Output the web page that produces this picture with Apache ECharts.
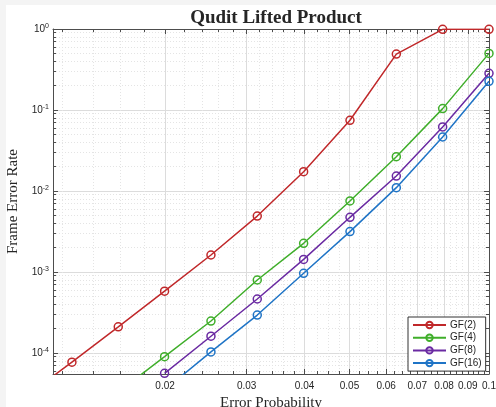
<!DOCTYPE html>
<html><head><meta charset="utf-8">
<script src="https://cdn.jsdelivr.net/npm/echarts@6/dist/echarts.min.js"></script>
<style>html,body{margin:0;padding:0;background:#f4f4f4}#c{width:496px;height:407px}</style>
</head><body><div id="c"></div>
<script>
// ---- data ----
const errorProbability = [0.01, 0.01259, 0.01585, 0.01995, 0.02512, 0.03162, 0.03981, 0.05012, 0.0631, 0.07943, 0.1];
const gf2  = [2.9e-5, 7.7e-5, 2.1e-4, 5.8e-4, 1.62e-3, 4.9e-3, 0.0173, 0.0746, 0.49, 0.99, 0.99];
const gf4  = [null, null, 3.3e-5, 9.0e-5, 2.48e-4, 7.96e-4, 2.26e-3, 7.53e-3, 0.0265, 0.104, 0.50];
const gf8  = [null, null, null, 5.61e-5, 1.61e-4, 4.64e-4, 1.43e-3, 4.73e-3, 0.0153, 0.0617, 0.284];
const gf16 = [null, null, null, 3.5e-5, 1.03e-4, 2.94e-4, 9.64e-4, 3.15e-3, 0.011, 0.0464, 0.226];
const seriesNames = ['GF(2)', 'GF(4)', 'GF(8)', 'GF(16)'];
const xTickLabels = [0.02, 0.03, 0.04, 0.05, 0.06, 0.07, 0.08, 0.09, 0.1];
const xMinorTicks = [0.012,0.014,0.016,0.018,0.022,0.024,0.026,0.028,0.032,0.034,0.036,0.038,
  0.0425,0.045,0.0475,0.0525,0.055,0.0575,0.0625,0.065,0.0675,0.0725,0.075,0.0775,0.0825,0.085,0.0875,0.0925,0.095,0.0975];
const yTickLabels = [1e-4, 1e-3, 1e-2, 1e-1, 1];
const yMinorTicks = [6e-5,7e-5,8e-5,9e-5,2e-4,3e-4,4e-4,5e-4,6e-4,7e-4,8e-4,9e-4,
  2e-3,3e-3,4e-3,5e-3,6e-3,7e-3,8e-3,9e-3,0.02,0.03,0.04,0.05,0.06,0.07,0.08,0.09,
  0.2,0.3,0.4,0.5,0.6,0.7,0.8,0.9];
const xRange = [0.01146, 0.1];
const yRange = [5.5e-5, 1];

// ---- styles ----
const colors = ['#c0282a', '#3fae2a', '#6a2aa2', '#1f74c6'];
const axisColor = '#4d4d4d';
const labelFont = 'Liberation Sans, Arial, sans-serif';
const serif = 'Liberation Serif, DejaVu Serif, serif';

function xAxisDef(pos, custom, major, showLabel, showName) {
  return {
    type: 'log', logBase: 10, min: xRange[0], max: xRange[1], position: pos,
    name: showName ? 'Error Probability' : '', nameLocation: 'middle', nameGap: 14,
    nameTextStyle: {fontFamily: serif, fontSize: 15, color: '#262626'},
    axisLine: {show: major, lineStyle: {color: axisColor, width: 1}},
    axisTick: {show: true, inside: true, length: major ? 5 : 3, customValues: custom,
      lineStyle: {color: axisColor, width: 1}},
    axisLabel: {show: showLabel, customValues: custom, margin: 7, fontFamily: labelFont, fontSize: 10,
      color: '#262626', formatter: v => String(Number(Number(v).toPrecision(3)))},
    splitLine: {show: pos === 'bottom', lineStyle: major ? {color: '#dcdcdc', width: 1} : {color: '#e4e4e4', width: 1, type: [1, 2]}},
    minorTick: {show: false}, minorSplitLine: {show: false}
  };
}
function yAxisDef(pos, custom, major, showLabel, showName) {
  return {
    type: 'log', logBase: 10, min: yRange[0], max: yRange[1], position: pos,
    name: showName ? 'Frame Error Rate' : '', nameLocation: 'middle', nameGap: 27,
    nameTextStyle: {fontFamily: serif, fontSize: 15, color: '#262626'},
    axisLine: {show: major, lineStyle: {color: axisColor, width: 1}},
    axisTick: {show: true, inside: true, length: major ? 5 : 3, customValues: custom,
      lineStyle: {color: axisColor, width: 1}},
    axisLabel: {show: showLabel, customValues: custom, margin: 4,
      formatter: v => '10{sup|' + Math.round(Math.log10(v)) + '}',
      rich: {
        sup: {fontFamily: labelFont, fontSize: 7, color: '#262626', lineHeight: 7, verticalAlign: 'top'}
      },
      fontFamily: labelFont, fontSize: 10, color: '#262626', lineHeight: 12
    },
    splitLine: {show: pos === 'left', lineStyle: major ? {color: '#dcdcdc', width: 1} : {color: '#e4e4e4', width: 1, type: [1, 2]}},
    minorTick: {show: false}, minorSplitLine: {show: false}
  };
}

const allSeries = [gf2, gf4, gf8, gf16];
const chart = echarts.init(document.getElementById('c'), null, {renderer: 'canvas'});
chart.setOption({
  backgroundColor: '#f4f4f4',
  animation: false,
  graphic: [{type: 'rect', shape: {x: 6, y: 5, width: 490, height: 402}, style: {fill: '#ffffff'}, z: -100, silent: true}],
  title: {text: 'Qudit Lifted Product', left: 271, top: 4, textAlign: 'center',
    textStyle: {fontFamily: serif, fontSize: 19, fontWeight: 'bold', color: '#262626'}},
  grid: {left: 53, right: 7, top: 29, bottom: 33, containLabel: false, outerBoundsMode: 'none',
    show: true, backgroundColor: '#ffffff', borderWidth: 0},
  legend: {
    orient: 'vertical', left: 408, top: 317, padding: [3, 4, 3, 4], itemGap: 2.7,
    itemWidth: 33, itemHeight: 8, backgroundColor: '#ffffff', borderColor: '#333333', borderWidth: 1,
    textStyle: {fontFamily: labelFont, fontSize: 10, color: '#262626', padding: [0, 0, 0, -1]},
    data: seriesNames
  },
  xAxis: [
    xAxisDef('bottom', xMinorTicks, false, false, false),
    xAxisDef('bottom', xTickLabels, true, true, true),
    xAxisDef('top', xMinorTicks, false, false, false),
    xAxisDef('top', xTickLabels, true, false, false)
  ],
  yAxis: [
    yAxisDef('left', yMinorTicks, false, false, false),
    yAxisDef('left', yTickLabels, true, true, true),
    yAxisDef('right', yMinorTicks, false, false, false),
    yAxisDef('right', yTickLabels, true, false, false)
  ],
  series: allSeries.map((vals, i) => ({
    name: seriesNames[i], type: 'line', xAxisIndex: 1, yAxisIndex: 1,
    data: errorProbability.map((x, j) => vals[j] == null ? null : [x, vals[j]]),
    symbol: 'circle', symbolSize: 8, clip: true, z: 5,
    lineStyle: {color: colors[i], width: 1.5},
    itemStyle: {color: 'rgba(255,255,255,0)', borderColor: colors[i], borderWidth: 1.5}
  }))
});
</script></body></html>
